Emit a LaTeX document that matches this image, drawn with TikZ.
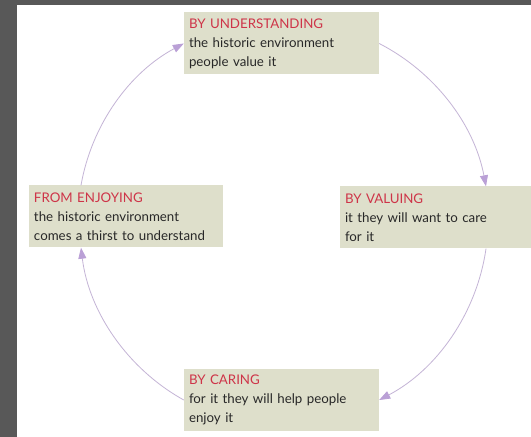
\documentclass[tikz,border=0pt]{standalone}
\usepackage{fontspec}
\setmainfont{Lato}
\usetikzlibrary{arrows.meta}
\definecolor{frame}{RGB}{88,88,88}
\definecolor{boxfill}{RGB}{222,223,203}
\definecolor{headred}{RGB}{206,52,72}
\definecolor{bodytext}{RGB}{40,40,40}
\definecolor{ring}{RGB}{196,180,214}
\definecolor{ringtip}{RGB}{186,160,214}
\begin{document}
\begin{tikzpicture}[x=1pt,y=1pt,
  stage/.style={rectangle, fill=boxfill, minimum width=195pt, minimum height=62pt,
    text width=185pt, inner xsep=5pt, inner ysep=0pt, align=left,
    font=\fontsize{13.3pt}{19pt}\selectfont, text=bodytext},
  cycle/.style={draw=ring, line width=0.8pt, looseness=0.9,
    -{Triangle[length=11pt,width=8pt,color=ringtip,fill=ringtip]}}]
  % page and dark frame
  \useasboundingbox (0,0) rectangle (531,437);
  \fill[white] (0,0) rectangle (531,437);
  \fill[frame] (0,0) rectangle (17,437);
  \fill[frame] (0,432) rectangle (531,437);
  % the four stages
  \node[stage] (under) at (281.5,393.5)
    {\textcolor{headred}{BY UNDERSTANDING}\\the historic environment\\people value it};
  \node[stage, minimum width=191pt, text width=181pt] (value) at (435.5,219.5)
    {\textcolor{headred}{BY VALUING}\\it they will want to care\\for it};
  \node[stage] (care) at (281.5,37)
    {\textcolor{headred}{BY CARING}\\for it they will help people\\enjoy it};
  \node[stage, minimum width=194pt, text width=184pt] (enjoy) at (126,220.5)
    {\textcolor{headred}{FROM ENJOYING}\\the historic environment\\comes a thirst to understand};
  % cycle connectors
  \draw[cycle] (under.east) to[bend left=26] ([xshift=50.5pt]value.north);
  \draw[cycle] ([xshift=50.5pt]value.south) to[bend left=27] (care.east);
  \draw[cycle] (care.west) to[bend left=27] ([xshift=-45pt]enjoy.south);
  \draw[cycle] ([xshift=-45pt]enjoy.north) to[bend left=26] (under.west);
\end{tikzpicture}
\end{document}
